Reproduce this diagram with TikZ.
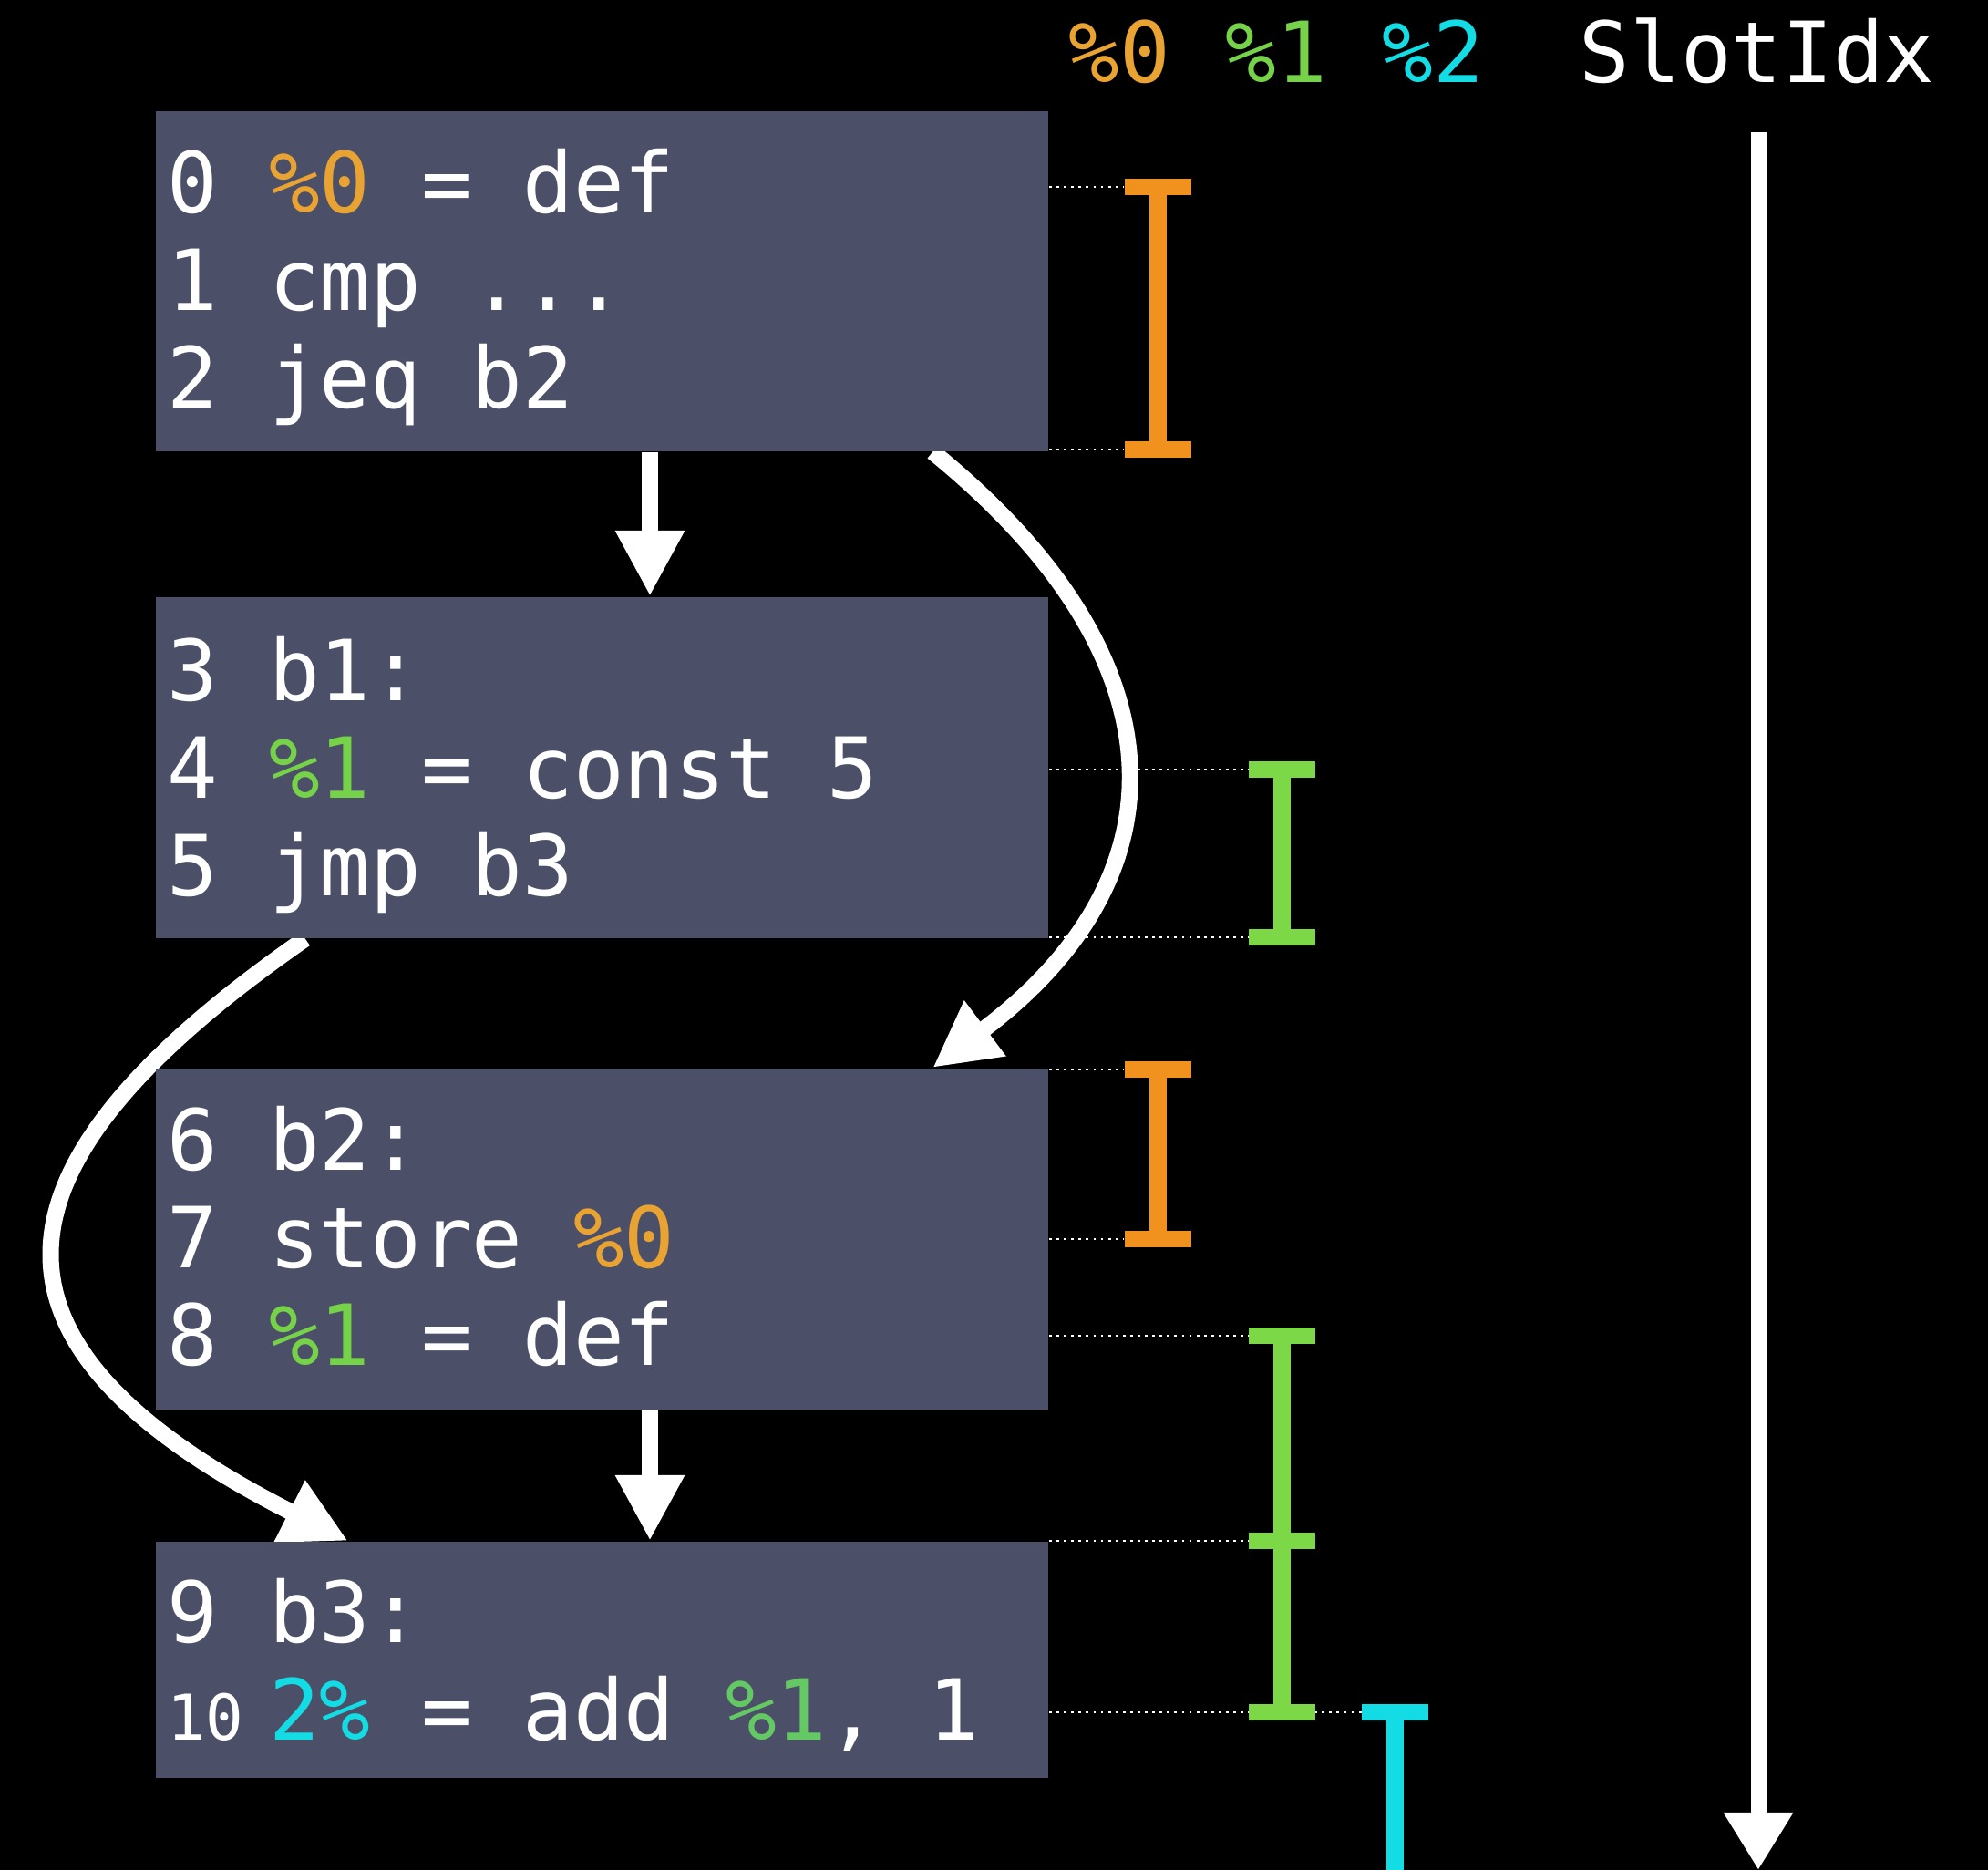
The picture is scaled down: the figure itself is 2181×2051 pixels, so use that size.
\documentclass[tikz,border=0pt]{standalone}
\usepackage{fontspec}
\newfontfamily\codefont{DejaVu Sans Mono}
\usetikzlibrary{arrows.meta,backgrounds}
\definecolor{boxgrey}{RGB}{75,80,104}
\definecolor{ivorange}{RGB}{241,145,30}
\definecolor{ivgreen}{RGB}{125,216,72}
\definecolor{ivcyan}{RGB}{20,220,228}
\definecolor{txtorange}{RGB}{232,163,50}
\definecolor{txtgreen}{RGB}{118,210,72}
\definecolor{txtgreenb}{RGB}{100,200,100}
\newcommand{\vzero}{\textcolor{txtorange}{\%0}}
\newcommand{\vone}{\textcolor{txtgreen}{\%1}}
\newcommand{\smallnum}[1]{\makebox[1.204em][l]{\fontsize{19.7}{20}\selectfont #1}}
% live interval: colour, x, top, bottom
\newcommand{\ivbar}[4]{%
  \draw[ivstem, #1] (#2,#3) -- (#2,#4);
  \draw[ivcap, #1] (#2-36.5,#3) -- (#2+36.5,#3);
  \draw[ivcap, #1] (#2-36.5,#4) -- (#2+36.5,#4);}

\begin{document}
\begin{tikzpicture}[x=0.01cm, y=-0.01cm,
    block/.style={rectangle, fill=boxgrey, inner sep=0pt, anchor=north west,
        minimum width=9.79cm},
    code/.style={anchor=base west, inner sep=0pt, align=left, text=white,
        font=\codefont\fontsize{26.3}{30.44}\selectfont},
    flow/.style={-{Triangle[length=7.2mm, width=7.1mm]}, line width=1.8mm, white},
    slotflow/.style={-{Triangle[length=6.3mm, width=7.2mm]}, line width=1.7mm, white},
    slotline/.style={white, line width=0.8pt, dash pattern=on 0.8pt off 1.5pt},
    ivstem/.style={line width=1.9mm},
    ivcap/.style={line width=1.8mm}
]
    \useasboundingbox (0,0) rectangle (2181,2051);

    % basic blocks
    \node[block, minimum height=3.73cm] (b1) at (170,121) {};
    \node[block, minimum height=3.74cm] (b2) at (170,654) {};
    \node[block, minimum height=3.74cm] (b3) at (170,1171) {};
    \node[block, minimum height=2.59cm] (b4) at (170,1690) {};

    % base anchor sits on the last line
    \node[code] (t1) at ([xshift=0.13cm, yshift=-3.26cm]b1.north west)
        {0 \vzero{} = def\\1 cmp ...\\2 jeq b2};
    \node[code] (t2) at ([xshift=0.13cm, yshift=-3.28cm]b2.north west)
        {3 b1:\\4 \vone{} = const 5\\5 jmp b3};
    \node[code] (t3) at ([xshift=0.13cm, yshift=-3.26cm]b3.north west)
        {6 b2:\\7 store \vzero\\8 \vone{} = def};
    \node[code] (t4) at ([xshift=0.13cm, yshift=-2.18cm]b4.north west)
        {9 b3:\\\smallnum{10}\textcolor{ivcyan}{2\%} = add \textcolor{txtgreenb}{\%1}, 1};

    % header
    \node[code, text=txtorange] (leg0) at (1172,90) {\%0};
    \node[code, text=txtgreen] (leg1) at (1344,90) {\%1};
    \node[code, text=ivcyan] (leg2) at (1516,90) {\%2};
    \node[code] (slotidx) at (1732,90) {SlotIdx};
    \coordinate (slotend) at (1929,2051);

    \begin{pgfonlayer}{background}
    \fill[black] (0,0) rectangle (2181,2051);
    \draw[flow] ([xshift=5.25mm]b1.south) -- ([xshift=5.25mm]b2.north);
    \draw[flow] ([xshift=5.25mm]b3.south) -- ([xshift=5.25mm]b4.north);
    \draw[flow] ([xshift=36.25mm]b1.south) .. controls +(278,226) and +(280,-210) .. ([xshift=36.25mm]b3.north);
    \draw[flow] ([xshift=-32.55mm]b2.south) .. controls +(-360,250) and +(-427,-216) .. ([xshift=-27.85mm]b4.north);
    \end{pgfonlayer}

    \draw[slotflow] ([yshift=-5.3mm]slotidx.south -| slotend) -- (slotend);

    % slot index guides
    \draw[slotline] (b1.east |- 0,205) -- (1233,205);
    \draw[slotline] (b1.east |- 0,493) -- (1233,493);
    \draw[slotline] (b2.east |- 0,844) -- (1370,844);
    \draw[slotline] (b2.east |- 0,1028) -- (1370,1028);
    \draw[slotline] (b3.east |- 0,1173) -- (1233,1173);
    \draw[slotline] (b3.east |- 0,1359) -- (1233,1359);
    \draw[slotline] (b3.east |- 0,1465) -- (1370,1465);
    \draw[slotline] (b4.east |- 0,1690) -- (1370,1690);
    \draw[slotline] (b4.east |- 0,1878) -- (1494,1878);

    % live intervals
    \ivbar{ivorange}{1270}{205}{493}
    \ivbar{ivgreen}{1406}{844}{1028}
    \ivbar{ivorange}{1270}{1173}{1359}
    \ivbar{ivgreen}{1406}{1465}{1690}
    \ivbar{ivgreen}{1406}{1690}{1878}
    \draw[ivstem, ivcyan] (1530,1878) -- (1530,2051);
    \draw[ivcap, ivcyan] (1493.5,1878) -- (1566.5,1878);
\end{tikzpicture}
\end{document}
